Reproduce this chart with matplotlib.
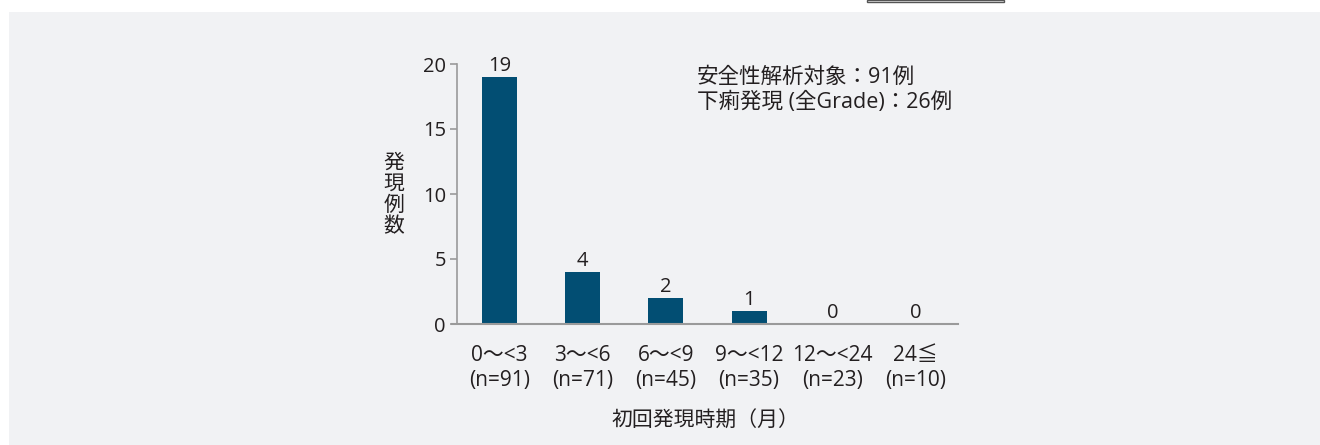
import matplotlib.pyplot as plt
from matplotlib.patches import Rectangle

plt.rcParams['font.family'] = ['Open Sans', 'Noto Sans CJK JP', 'DejaVu Sans']

# データ
periods = ['0〜<3', '3〜<6', '6〜<9', '9〜<12', '12〜<24', '24≦']
n_patients = [91, 71, 45, 35, 23, 10]
cases = [19, 4, 2, 1, 0, 0]

bar_color = '#024e73'
bg_color = '#f1f2f4'
text_color = '#231f20'
axis_color = '#9a9a9a'

W, H = 1320, 445
fig = plt.figure(figsize=(W / 100, H / 100), dpi=100)
fig.patch.set_facecolor('white')

# 背景パネル
fig.patches.append(Rectangle((9 / W, 0), 1 - 9 / W, 1 - 12 / H,
                             transform=fig.transFigure, facecolor=bg_color,
                             edgecolor='none', zorder=-10))
fig.patches.append(Rectangle((867 / W, 1 - 2 / H), 137 / W, 2 / H,
                             transform=fig.transFigure, facecolor='white',
                             edgecolor='#555555', linewidth=1, zorder=-9))

ax = fig.add_axes([452 / W, 121 / H, 506 / W, 260 / H])
ax.set_facecolor('none')

x = list(range(len(periods)))
ax.bar(x, cases, width=0.42, color=bar_color, zorder=2)

for xi, v in zip(x, cases):
    ax.annotate(str(v), (xi, v), xytext=(0, 0.5), textcoords='offset points',
                ha='center', va='bottom', fontsize=14.5, color=text_color)

ax.set_xlim(-0.57, 5.51)
ax.set_ylim(0, 20)
ax.set_yticks([0, 5, 10, 15, 20])

labels = [f'{p}\n(n={n})' for p, n in zip(periods, n_patients)]
ax.set_xticks(x)
ax.set_xticklabels(labels, linespacing=1.27)
ax.tick_params(axis='x', length=0, pad=15, labelsize=15, labelcolor=text_color)
ax.tick_params(axis='y', length=5, width=1.2, color=axis_color, pad=3,
               labelsize=14.5, labelcolor=text_color)

for s in ['top', 'right']:
    ax.spines[s].set_visible(False)
ax.spines['left'].set_position(('axes', 5 / 506))
ax.spines['left'].set_color(axis_color)
ax.spines['bottom'].set_color(axis_color)
ax.spines['left'].set_linewidth(1.2)
ax.spines['bottom'].set_linewidth(1.5)

ax.set_ylabel('発\n現\n例\n数', rotation=0, fontsize=15, color=text_color,
              ha='center', va='center', linespacing=1.0)
ax.yaxis.set_label_coords(-0.115, 0.496)

ax.set_xlabel('初回発現時期（月）', fontsize=15, color=text_color, labelpad=14)

ax.text(0.484, 0.99, '安全性解析対象：91例\n下痢発現 (全Grade)：26例',
        transform=ax.transAxes, ha='left', va='top', fontsize=15.5,
        color=text_color, linespacing=1.27)

fig.savefig('out.png', dpi=100, facecolor=fig.get_facecolor())
